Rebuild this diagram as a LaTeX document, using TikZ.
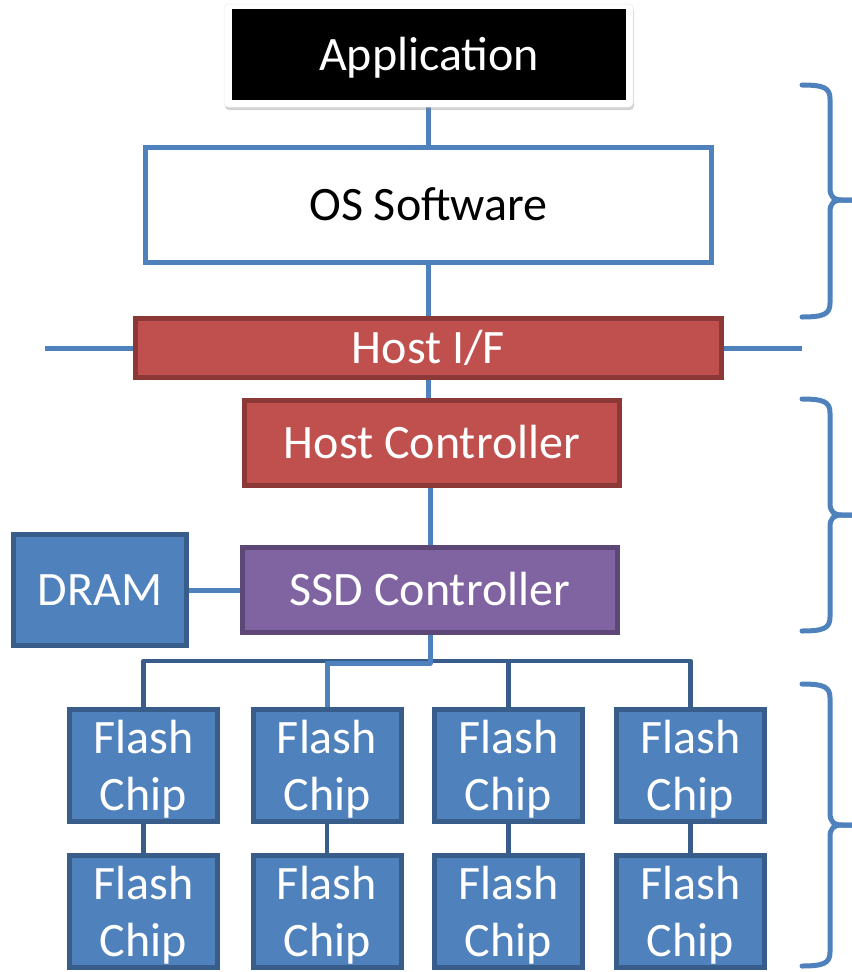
\documentclass[tikz,border=0pt]{standalone}
\usepackage{fontspec}
\setmainfont{Carlito}
\usetikzlibrary{shadows,calc}
\definecolor{accblue}{HTML}{4F81BD}
\definecolor{accblueD}{HTML}{385D8A}
\definecolor{accred}{HTML}{C0504D}
\definecolor{accredD}{HTML}{8C3836}
\definecolor{accpurple}{HTML}{8064A2}
\definecolor{accpurpleD}{HTML}{5C4776}
\pgfdeclarelayer{background}
\pgfsetlayers{background,main}

\begin{document}
\begin{tikzpicture}[x=1bp,y=-1bp,
  box/.style={rectangle, line width=5bp, inner sep=0pt,
    font=\fontsize{48bp}{57bp}\selectfont, text=white,
    text height=31bp, text depth=0bp,
    drop shadow={opacity=0.2, shadow xshift=1.5bp, shadow yshift=-2.5bp}},
  osbox/.style={box, draw=accblue, fill=white, text=black},
  redbox/.style={box, draw=accredD, fill=accred},
  ssdbox/.style={box, draw=accpurpleD, fill=accpurple},
  bluebox/.style={box, draw=accblueD, fill=accblue},
  chipbox/.style={bluebox, minimum width=148bp, minimum height=112bp,
    align=center, text height=89bp, text depth=0bp},
  link/.style={draw=accblue, line width=5bp, line join=round},
  buslink/.style={draw=accblueD, line width=4.5bp, line join=round},
  bracket/.style={draw=accblue, line width=5bp, line cap=round}
]
\useasboundingbox (0,0) rectangle (852,972);

% application block on its white frame
\node[rectangle, rounded corners=4bp, fill=white, draw=black!8, line width=0.5bp,
  minimum width=409bp, minimum height=103bp,
  drop shadow={opacity=0.35, shadow xshift=1bp, shadow yshift=-3bp}]
  (appframe) at (428.5,55.5) {};
\node[rectangle, fill=black, text=white, inner sep=0pt,
  minimum width=394bp, minimum height=91bp,
  font=\fontsize{48bp}{57bp}\selectfont, text height=31bp, text depth=0bp]
  (app) at (429,54.5) {Application};

% host side
\node[osbox, minimum width=566bp, minimum height=115bp] (os) at (428.5,205) {OS Software};
\node[redbox, minimum width=586bp, minimum height=59bp] (hif) at (428.5,348) {Host I/F};
\node[redbox, minimum width=375bp, minimum height=85bp] (hc) at (432,443) {Host Controller};
\node[ssdbox, minimum width=375bp, minimum height=85bp] (ssd) at (430,590) {SSD Controller};
\node[bluebox, minimum width=173bp, minimum height=111bp] (dram) at (100,590) {DRAM};

% flash array: four channels, two chips each
\foreach \i/\x in {1/143.5, 2/327, 3/508.5, 4/690.5} {
  \node[chipbox] (ft\i) at (\x,765.5) {Flash\\Chip};
  \node[chipbox] (fb\i) at (\x,911.5) {Flash\\Chip};
}

\coordinate (hifL) at (45,348);
\coordinate (hifR) at (802,348);
\coordinate (bus) at (0,661);
\coordinate (lbus) at (0,663);

\begin{pgfonlayer}{background}
  \draw[link] (appframe.south) -- (os.north);
  \draw[link] (os.south) -- (hif.north);
  \draw[link] (hifL) -- (hif.west);
  \draw[link] (hif.east) -- (hifR);
  \draw[link] (hif.south) -- (hif.south |- hc.north);
  \draw[link] (ssd.north |- hc.south) -- (ssd.north);
  \draw[link] (dram.east) -- (dram.east -| ssd.west);
  % channel bus
  \draw[buslink] (ft1.north) -- (ft1.north |- bus) -- (ft4.north |- bus) -- (ft4.north);
  \draw[buslink] (ft3.north |- bus) -- (ft3.north);
  \foreach \i in {1,2,3,4} {
    \draw[buslink] (ft\i.south) -- (fb\i.north);
  }
\end{pgfonlayer}
\draw[link] (ssd.south) |- (ft2.north |- lbus) -- (ft2.north);

% braces grouping the layers
\coordinate (b1t) at (802,85);  \coordinate (b1m) at (852,200); \coordinate (b1b) at (802,317);
\coordinate (b2t) at (802,399); \coordinate (b2m) at (852,515); \coordinate (b2b) at (802,631);
\coordinate (b3t) at (802,684); \coordinate (b3m) at (852,825); \coordinate (b3b) at (802,966);
\foreach \b in {b1,b2,b3} {
  \draw[bracket]
    (\b t) .. controls ($(\b t)+(22,0)$) and ($(\b t)+(28,3)$) .. ($(\b t)+(28,14)$)
    -- ($(\b m)+(-22,-12)$)
    .. controls ($(\b m)+(-22,-3)$) and ($(\b m)+(-18,0)$) .. ($(\b m)+(-10,0)$) -- (\b m);
  \draw[bracket]
    (\b m) -- ($(\b m)+(-10,0)$)
    .. controls ($(\b m)+(-18,0)$) and ($(\b m)+(-22,3)$) .. ($(\b m)+(-22,12)$)
    -- ($(\b b)+(28,-14)$)
    .. controls ($(\b b)+(28,-3)$) and ($(\b b)+(22,0)$) .. (\b b);
}
\end{tikzpicture}
\end{document}
